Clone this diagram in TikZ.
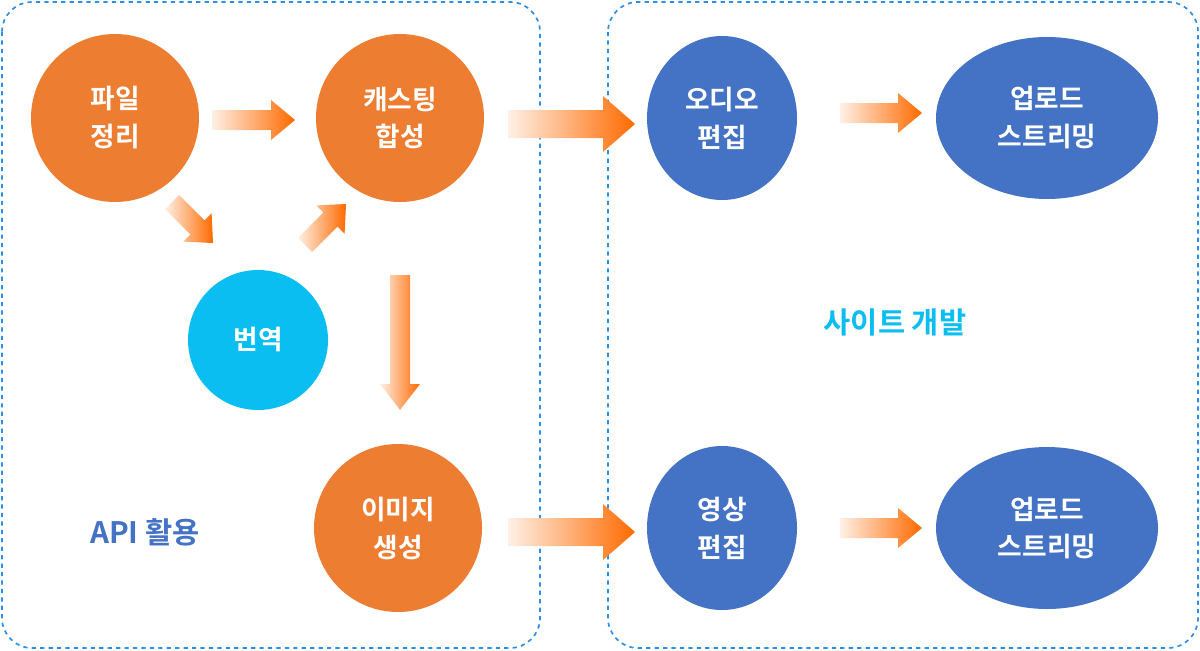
\documentclass[tikz,border=0pt]{standalone}
\usepackage{fontspec}
\newfontfamily\kr{Noto Sans CJK KR}[BoldFont={* Bold}]
\usetikzlibrary{shapes.geometric}
\definecolor{orng}{HTML}{ED7D31}
\definecolor{blu}{HTML}{4472C4}
\definecolor{cyn}{HTML}{0BBEF2}
\definecolor{arr}{HTML}{FF6A00}
\definecolor{dash}{HTML}{2E8FE6}
\tikzset{
  every node/.style={font=\kr\bfseries\fontsize{19}{27}\selectfont, text=white, align=center},
  oc/.style={circle, fill=orng, minimum size=168*0.025cm, inner sep=0},
  be/.style={ellipse, fill=blu, inner sep=0},
  box/.style={draw=dash, dashed, line width=1.2pt, rounded corners=0.75cm},
  pics/barrow/.style n args={3}{code={
    \path[left color=arr!10!white, right color=arr, draw=none]
      (0,-#2/2) -- ({#1-#3},-#2/2) -- ({#1-#3},-#2) -- (#1,0) -- ({#1-#3},#2) -- ({#1-#3},#2/2) -- (0,#2/2) -- cycle;
  }}
}
\begin{document}
\begin{tikzpicture}[x=0.025cm,y=-0.025cm]
\useasboundingbox (0,0) rectangle (1200,650);
\draw[box] (2,2) rectangle (540,648);
\draw[box] (608,2) rectangle (1198,648);
\node[oc] (file) at (115,118) {파일\\정리};
\node[oc] (cast) at (400,118) {캐스팅\\합성};
\node[circle, fill=cyn, minimum size=140*0.025cm, inner sep=0] (tr) at (258,340) {번역};
\node[oc] (img) at (398,528) {이미지\\생성};
\node[be, minimum width=150*0.025cm, minimum height=164*0.025cm] (aud) at (722,118) {오디오\\편집};
\node[be, minimum width=222*0.025cm, minimum height=162*0.025cm] (up1) at (1047,118) {업로드\\스트리밍};
\node[be, minimum width=150*0.025cm, minimum height=164*0.025cm] (vid) at (722,528) {영상\\편집};
\node[be, minimum width=222*0.025cm, minimum height=162*0.025cm] (up2) at (1047,528) {업로드\\스트리밍};
\node[text=blu, font=\kr\bfseries\fontsize{21}{25}\selectfont] (api) at (145,532) {API 활용};
\node[text=cyn, font=\kr\bfseries\fontsize{21}{25}\selectfont] (site) at (895,322) {사이트 개발};
\pic at (212,120) {barrow={83}{20}{24}};
\pic at (508,124) {barrow={127}{28}{32}};
\pic at (508,532) {barrow={127}{28}{32}};
\pic at (840,113) {barrow={82}{20}{24}};
\pic at (840,528) {barrow={82}{20}{24}};
\pic[rotate=-45] at (172,202) {barrow={58}{20}{22}};
\pic[rotate=45] at (305,245) {barrow={58}{20}{22}};
\pic[rotate=-90] at (400,275) {barrow={135}{20}{26}};
\end{tikzpicture}
\end{document}
